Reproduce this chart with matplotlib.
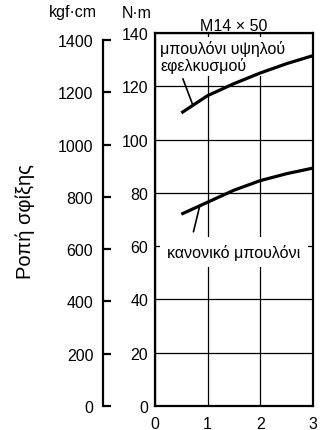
import matplotlib
matplotlib.use("Agg")
import matplotlib.pyplot as plt
import numpy as np

plt.rcParams['font.family'] = ['Liberation Sans', 'DejaVu Sans']

# data
x_pts = [0.5, 1.0, 1.5, 2.0, 2.5, 3.0]
high_tensile = [110, 116.5, 121, 125, 128.5, 131.5]   # N·m
normal_bolt = [72, 76.5, 81, 84.6, 87.2, 89.3]        # N·m
nm_ticks = [0, 20, 40, 60, 80, 100, 120, 140]
kgf_ticks = [0, 200, 400, 600, 800, 1000, 1200, 1400]
x_ticks = [0, 1, 2, 3]
KGFCM_TO_NM = 0.0980665
FS = 11.5

fig = plt.figure(figsize=(3.24, 4.31), dpi=100)
W, H = 324, 431

ax = fig.add_axes([155 / W, 24 / H, 158 / W, 373 / H])
ax.plot(x_pts, high_tensile, color='black', lw=2.3, solid_capstyle='butt', zorder=3)
ax.plot(x_pts, normal_bolt, color='black', lw=2.3, solid_capstyle='butt', zorder=3)
ax.set_xlim(0, 3)
ax.set_ylim(0, 140)
ax.set_xticks(x_ticks)
ax.set_yticks(nm_ticks)
ax.grid(True, color='black', lw=0.9)
ax.set_axisbelow(True)
ax.tick_params(axis='both', length=0, labelsize=FS)
ax.tick_params(axis='y', pad=5)
ax.tick_params(axis='x', pad=7)
for s in ax.spines.values():
    s.set_linewidth(1.6)
ax.set_title('M14 × 50', fontsize=FS, pad=2)

# labels with white boxes over the grid
ax.text(0.1, 137.5, 'μπουλόνι υψηλού\nεφελκυσμού', fontsize=FS, va='top', ha='left',
        linespacing=1.12, zorder=2.5,
        bbox=dict(boxstyle='square,pad=0.15', fc='white', ec='none'))
ax.text(1.5, 57.8, 'κανονικό μπουλόνι', fontsize=FS, va='center', ha='center', zorder=2.5,
        bbox=dict(boxstyle='square,pad=0.45', fc='white', ec='none'))

# leader lines
x_a = 0.72
ax.annotate('', xy=(x_a, np.interp(x_a, x_pts, high_tensile)), xytext=(0.53, 122.8),
            arrowprops=dict(arrowstyle='-', lw=1.2, color='black', shrinkA=0, shrinkB=0), zorder=5)
x_b = 0.85
ax.annotate('', xy=(x_b, np.interp(x_b, x_pts, normal_bolt)), xytext=(0.73, 65.4),
            arrowprops=dict(arrowstyle='-', lw=1.2, color='black', shrinkA=0, shrinkB=0), zorder=5)

# kgf·cm axis
ax2 = fig.add_axes([103 / W, 24 / H, 0.01, 373 / H])
ax2.set_ylim(0, 140 / KGFCM_TO_NM)
ax2.set_yticks(kgf_ticks)
ax2.set_xticks([])
for k in ['top', 'right', 'bottom']:
    ax2.spines[k].set_visible(False)
ax2.spines['left'].set_linewidth(1.6)
ax2.spines['left'].set_bounds(0, 1400)
ax2.patch.set_alpha(0)
ax2.tick_params(axis='y', direction='in', length=5.5, width=1.6, pad=7, labelsize=FS)

fig.text(73 / W, 1 - 13 / H, 'kgf·cm', ha='center', va='center', fontsize=FS)
fig.text(137 / W, 1 - 13 / H, 'N·m', ha='center', va='center', fontsize=FS)
fig.text(25 / W, 1 - 222 / H, 'Ροπή σφίξης', ha='center', va='center', rotation=90, fontsize=14.5)

fig.savefig('out.png', dpi=100)
